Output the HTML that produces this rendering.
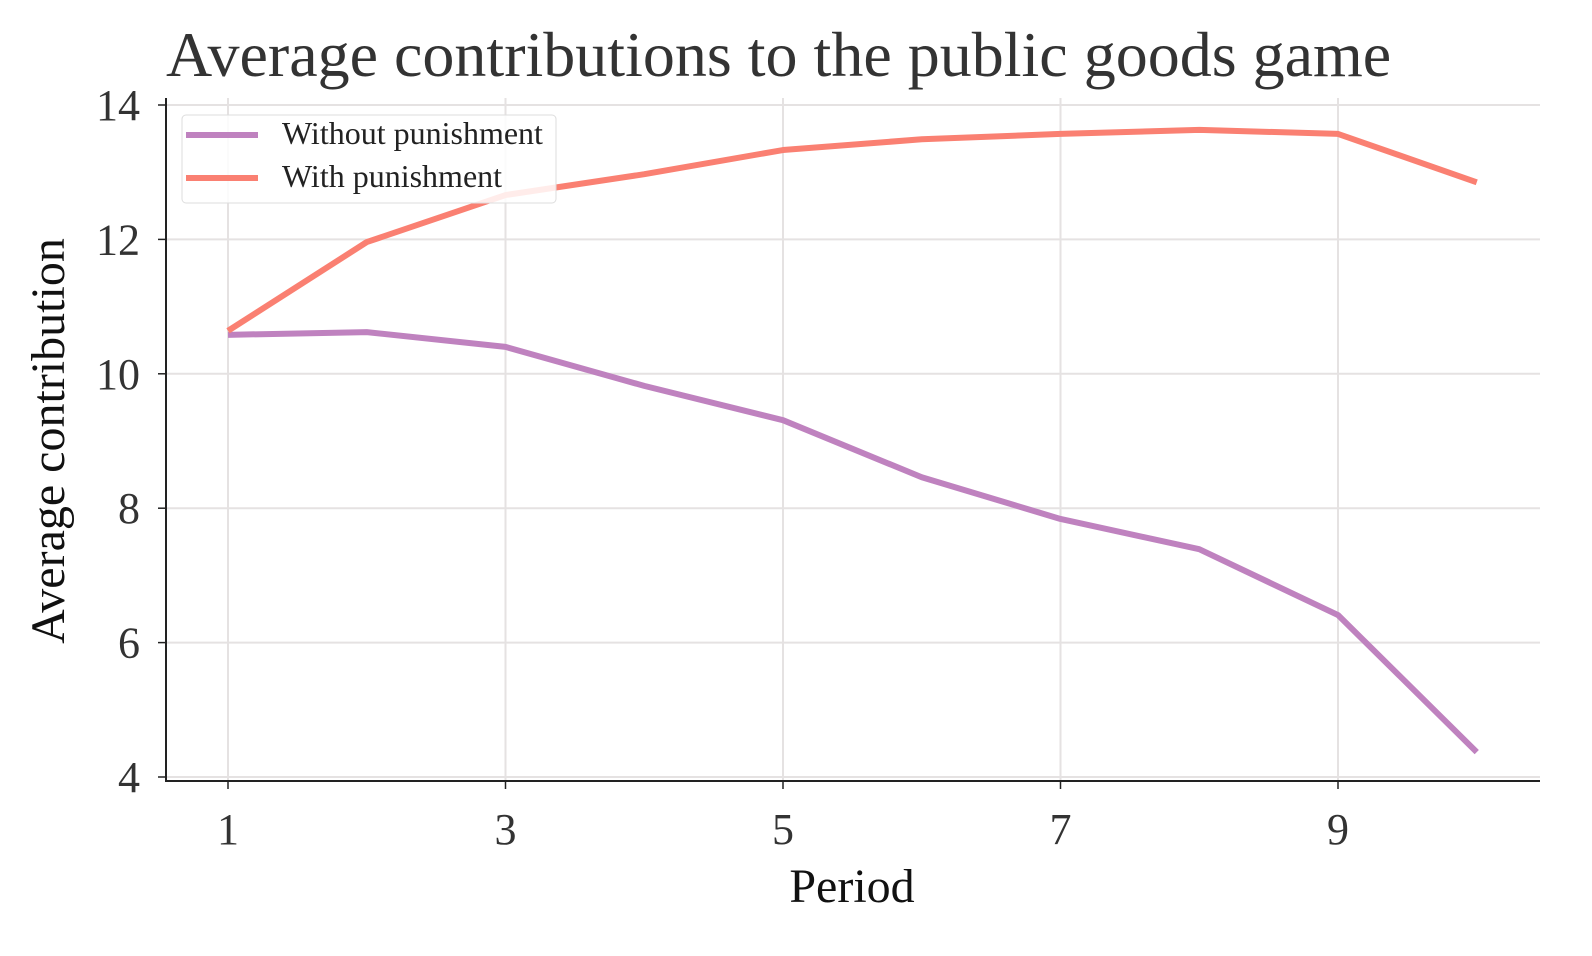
<!DOCTYPE html>
<html><head><meta charset="utf-8"><style>
body{margin:0;background:#fff;}
svg{display:block;font-family:"Liberation Serif","DejaVu Serif",serif;}
</style></head><body>
<svg id="chart" width="1592" height="956">
<text x="166" y="76" font-size="64" fill="#333">Average contributions to the public goods game</text>
<g id="grid"></g>
<g id="axes"></g>
<g id="series"></g>
<text x="852" y="902" font-size="48" text-anchor="middle" fill="#111">Period</text>
<text transform="translate(64,441) rotate(-90)" font-size="48" text-anchor="middle" fill="#111">Average contribution</text>
<g>
<rect x="182" y="115" width="374" height="88" rx="4" fill="#fff" fill-opacity="0.85" stroke="#ddd"/>
<line x1="186" y1="135" x2="258" y2="135" stroke="#bf82bf" stroke-width="6"/>
<text x="282" y="144" font-size="32" fill="#222">Without punishment</text>
<line x1="186" y1="178" x2="258" y2="178" stroke="#fa8072" stroke-width="6"/>
<text x="282" y="187" font-size="32" fill="#222">With punishment</text>
</g>
</svg>
<script>
const periods=[1,2,3,4,5,6,7,8,9,10];
const withoutPunishment=[10.58,10.62,10.40,9.82,9.31,8.46,7.84,7.39,6.41,4.37];
const withPunishment=[10.64,11.96,12.66,12.97,13.33,13.49,13.57,13.63,13.57,12.85];
const xTicks=[1,3,5,7,9];
const yTicks=[4,6,8,10,12,14];
const NS="http://www.w3.org/2000/svg";
function xs(v){return 228+(v-1)*138.75;}
function ys(v){return 777-(v-4)*67.2;}
function mk(tag,attrs,parent){const e=document.createElementNS(NS,tag);for(const k in attrs)e.setAttribute(k,attrs[k]);parent.appendChild(e);return e;}
const grid=document.getElementById('grid'),axes=document.getElementById('axes'),series=document.getElementById('series');
xTicks.forEach(t=>{
 const g=mk('line',{x1:xs(t),x2:xs(t),y1:98,y2:781,stroke:'#e5e2e2','stroke-width':2},grid);
 
 
 const tk=mk('line',{x1:xs(t),x2:xs(t),y1:781,y2:789,stroke:'#222','stroke-width':1.5},axes);
 
 
 const l=mk('text',{x:xs(t),y:844,'font-size':44,'text-anchor':'middle',fill:'#333'},axes);
 l.textContent=t;
 
 
});
yTicks.forEach(t=>{
 const g=mk('line',{x1:166,x2:1540,y1:ys(t),y2:ys(t),stroke:'#e5e2e2','stroke-width':2},grid);
 
 
 const tk=mk('line',{x1:158,x2:166,y1:ys(t),y2:ys(t),stroke:'#222','stroke-width':1.5},axes);
 
 
 const l=mk('text',{x:140,y:ys(t)+15,'font-size':44,'text-anchor':'end',fill:'#333'},axes);
 l.textContent=t;
 
 
});
const sp1=mk('line',{x1:166,x2:166,y1:98,y2:782,stroke:'#222','stroke-width':2},axes);


const sp2=mk('line',{x1:165,x2:1540,y1:781,y2:781,stroke:'#222','stroke-width':2},axes);


function line(vals,color,name){
 const d=vals.map((v,i)=>(i?'L':'M')+xs(periods[i])+','+ys(v)).join(' ');
 const p=mk('path',{d:d,fill:'none',stroke:color,'stroke-width':6,'stroke-linejoin':'round'},series);
 
 
}
line(withoutPunishment,'#bf82bf','line-without-punishment');
line(withPunishment,'#fa8072','line-with-punishment');
</script>
</body></html>
